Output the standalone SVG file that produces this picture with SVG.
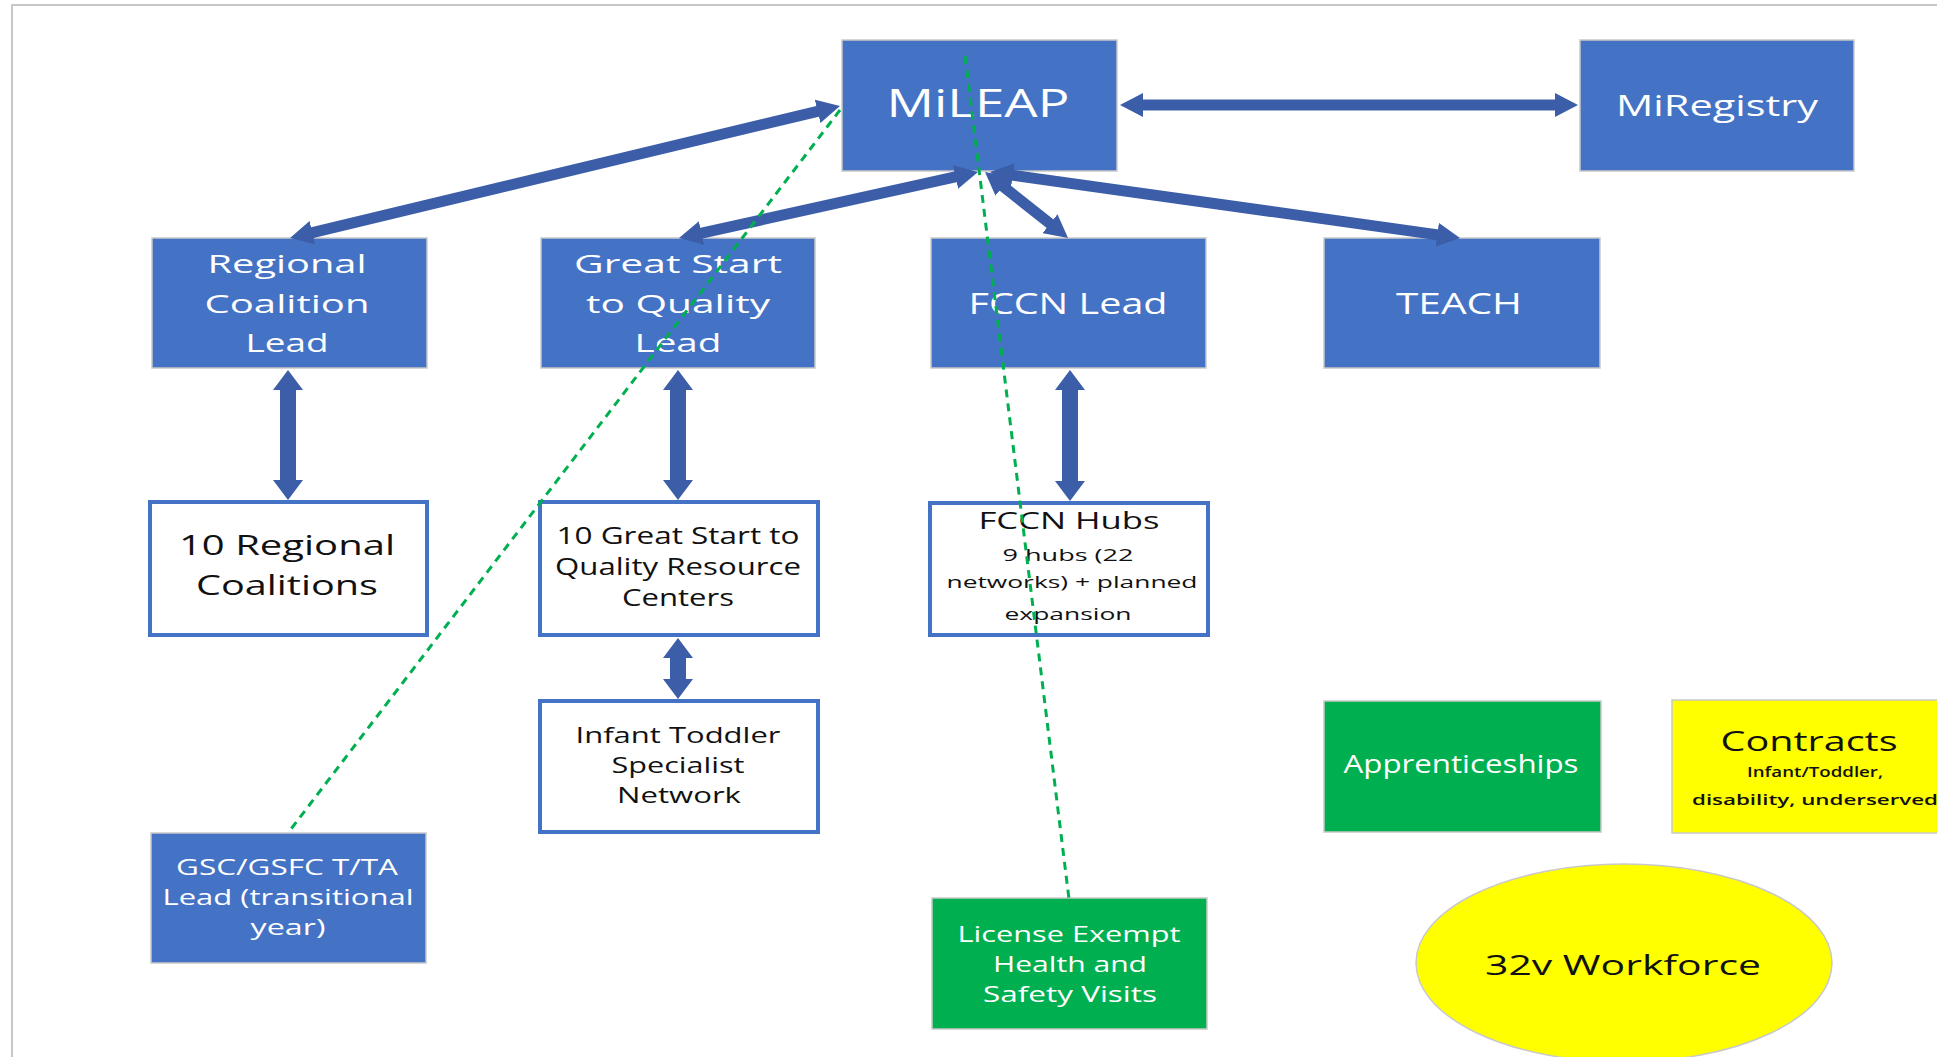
<svg xmlns="http://www.w3.org/2000/svg" width="1937" height="1057" viewBox="0 0 1937 1057">
<style>
.bg{fill:#ffffff}
.frame{fill:none;stroke:#C8C8C8;stroke-width:2}
.blue{fill:#4472C4;stroke:#C9C9C9;stroke-width:1.5}
.white{fill:#ffffff;stroke:#4472C4;stroke-width:4}
.green{fill:#00B050;stroke:#C9C9C9;stroke-width:1.5}
.yellow{fill:#FFFF00;stroke:#C9C9C9;stroke-width:1.5}
text{font-family:"Open Sans","Noto Sans",sans-serif;text-anchor:middle;font-weight:400}
.w{fill:#ffffff}
.k{fill:#111111}
.sb{font-weight:600}
.arm{stroke:#3C5EA8;stroke-width:11;fill:none;marker-start:url(#hm);marker-end:url(#hm)}
.arb{stroke:#3C5EA8;stroke-width:16;fill:none;marker-start:url(#hb);marker-end:url(#hb)}
.dash{stroke:#00B050;stroke-width:3;stroke-dasharray:8 6;fill:none}
</style>
<defs>
<marker id="hm" markerUnits="userSpaceOnUse" markerWidth="23" markerHeight="24" refX="1" refY="12" orient="auto-start-reverse"><path d="M0,0 L23,12 L0,24 z" fill="#3C5EA8"/></marker>
<marker id="hb" markerUnits="userSpaceOnUse" markerWidth="20" markerHeight="30" refX="1" refY="15" orient="auto-start-reverse"><path d="M0,0 L20,15 L0,30 z" fill="#3C5EA8"/></marker>
</defs>
<rect class="bg" x="0" y="0" width="1937" height="1057"/>
<path class="frame" d="M12,1057 V5 H1937"/>

<g id="mileap">
<rect class="blue" x="842" y="40" width="275" height="131"/>
<text class="w" x="978" y="117" font-size="39" textLength="183" lengthAdjust="spacingAndGlyphs">MiLEAP</text>
</g>
<g id="miregistry">
<rect class="blue" x="1580" y="40" width="274" height="131"/>
<text class="w" x="1717" y="116" font-size="30" textLength="202" lengthAdjust="spacingAndGlyphs">MiRegistry</text>
</g>
<g id="regional-lead">
<rect class="blue" x="152" y="238" width="275" height="130"/>
<text class="w" x="287" y="273" font-size="26" textLength="159" lengthAdjust="spacingAndGlyphs">Regional</text>
<text class="w" x="287" y="313" font-size="26" textLength="165" lengthAdjust="spacingAndGlyphs">Coalition</text>
<text class="w" x="287" y="352" font-size="26" textLength="83" lengthAdjust="spacingAndGlyphs">Lead</text>
</g>
<g id="gsq-lead">
<rect class="blue" x="541" y="238" width="274" height="130"/>
<text class="w" x="678" y="273" font-size="26" textLength="208" lengthAdjust="spacingAndGlyphs">Great Start</text>
<text class="w" x="678" y="313" font-size="26" textLength="184" lengthAdjust="spacingAndGlyphs">to Quality</text>
<text class="w" x="678" y="352" font-size="26" textLength="87" lengthAdjust="spacingAndGlyphs">Lead</text>
</g>
<g id="fccn-lead">
<rect class="blue" x="931" y="238" width="275" height="130"/>
<text class="w" x="1068" y="314" font-size="30" textLength="199" lengthAdjust="spacingAndGlyphs">FCCN Lead</text>
</g>
<g id="teach">
<rect class="blue" x="1324" y="238" width="276" height="130"/>
<text class="w" x="1459" y="314" font-size="30" textLength="126" lengthAdjust="spacingAndGlyphs">TEACH</text>
</g>
<g id="regional-coalitions">
<rect class="white" x="150" y="502" width="277" height="133"/>
<text class="k" x="287" y="555" font-size="28" textLength="216" lengthAdjust="spacingAndGlyphs">10 Regional</text>
<text class="k" x="287" y="595" font-size="28" textLength="182" lengthAdjust="spacingAndGlyphs">Coalitions</text>
</g>
<g id="gsq-resource-centers">
<rect class="white" x="540" y="502" width="278" height="133"/>
<text class="k" x="678" y="544" font-size="23" textLength="243" lengthAdjust="spacingAndGlyphs">10 Great Start to</text>
<text class="k" x="678" y="575" font-size="23" textLength="246" lengthAdjust="spacingAndGlyphs">Quality Resource</text>
<text class="k" x="678" y="606" font-size="23" textLength="112" lengthAdjust="spacingAndGlyphs">Centers</text>
</g>
<g id="fccn-hubs">
<rect class="white" x="930" y="503" width="278" height="132"/>
<text class="k" x="1069" y="529" font-size="23" textLength="181" lengthAdjust="spacingAndGlyphs">FCCN Hubs</text>
<text class="k" x="1068" y="561" font-size="17" textLength="131" lengthAdjust="spacingAndGlyphs">9 hubs (22</text>
<text class="k" x="1072" y="588" font-size="17" textLength="251" lengthAdjust="spacingAndGlyphs">networks) + planned</text>
<text class="k" x="1068" y="620" font-size="17" textLength="127" lengthAdjust="spacingAndGlyphs">expansion</text>
</g>
<g id="infant-toddler">
<rect class="white" x="540" y="701" width="278" height="131"/>
<text class="k" x="678" y="743" font-size="21" textLength="205" lengthAdjust="spacingAndGlyphs">Infant Toddler</text>
<text class="k" x="678" y="773" font-size="21" textLength="133" lengthAdjust="spacingAndGlyphs">Specialist</text>
<text class="k" x="679" y="803" font-size="21" textLength="124" lengthAdjust="spacingAndGlyphs">Network</text>
</g>
<g id="gsc-gsfc">
<rect class="blue" x="151" y="833" width="275" height="130"/>
<text class="w" x="287" y="875" font-size="21" textLength="222" lengthAdjust="spacingAndGlyphs">GSC/GSFC T/TA</text>
<text class="w" x="288" y="905" font-size="21" textLength="251" lengthAdjust="spacingAndGlyphs">Lead (transitional</text>
<text class="w" x="288" y="935" font-size="21" textLength="75" lengthAdjust="spacingAndGlyphs">year)</text>
</g>
<g id="license-exempt">
<rect class="green" x="932" y="898" width="275" height="131"/>
<text class="w" x="1069" y="942" font-size="22" textLength="223" lengthAdjust="spacingAndGlyphs">License Exempt</text>
<text class="w" x="1070" y="972" font-size="22" textLength="154" lengthAdjust="spacingAndGlyphs">Health and</text>
<text class="w" x="1070" y="1002" font-size="22" textLength="174" lengthAdjust="spacingAndGlyphs">Safety Visits</text>
</g>
<g id="apprenticeships">
<rect class="green" x="1324" y="701" width="277" height="131"/>
<text class="w" x="1461" y="773" font-size="25" textLength="235" lengthAdjust="spacingAndGlyphs">Apprenticeships</text>
</g>
<g id="contracts">
<rect class="yellow" x="1672" y="700" width="280" height="133"/>
<text class="k" x="1809" y="751" font-size="28" textLength="177" lengthAdjust="spacingAndGlyphs">Contracts</text>
<text class="k sb" x="1815" y="777" font-size="14" textLength="136" lengthAdjust="spacingAndGlyphs">Infant/Toddler,</text>
<text class="k sb" x="1815" y="805" font-size="14" textLength="246" lengthAdjust="spacingAndGlyphs">disability, underserved</text>
</g>
<g id="workforce">
<ellipse class="yellow" cx="1624" cy="963" rx="208" ry="99"/>
<text class="k" x="1623" y="975" font-size="28" textLength="276" lengthAdjust="spacingAndGlyphs">32v Workforce</text>
</g>

<g id="connectors">
<line class="arm" x1="1142" y1="105" x2="1556" y2="105"/>
<line class="arm" x1="311.4" y1="232.9" x2="818.6" y2="111.1"/>
<line class="arm" x1="700.5" y1="233.3" x2="956.5" y2="176.7"/>
<line class="arm" x1="1050.8" y1="224.3" x2="1002.2" y2="185.7"/>
<line class="arm" x1="1011.8" y1="175.1" x2="1438.2" y2="234.9"/>
<line class="arb" x1="288" y1="389" x2="288" y2="481"/>
<line class="arb" x1="678" y1="389" x2="678" y2="481"/>
<line class="arb" x1="1070" y1="389" x2="1070" y2="482"/>
<line class="arb" x1="678" y1="657" x2="678" y2="680"/>
<line class="dash" x1="840" y1="110" x2="288" y2="833"/>
<line class="dash" x1="965" y1="56" x2="1069" y2="899"/>
</g>
</svg>
